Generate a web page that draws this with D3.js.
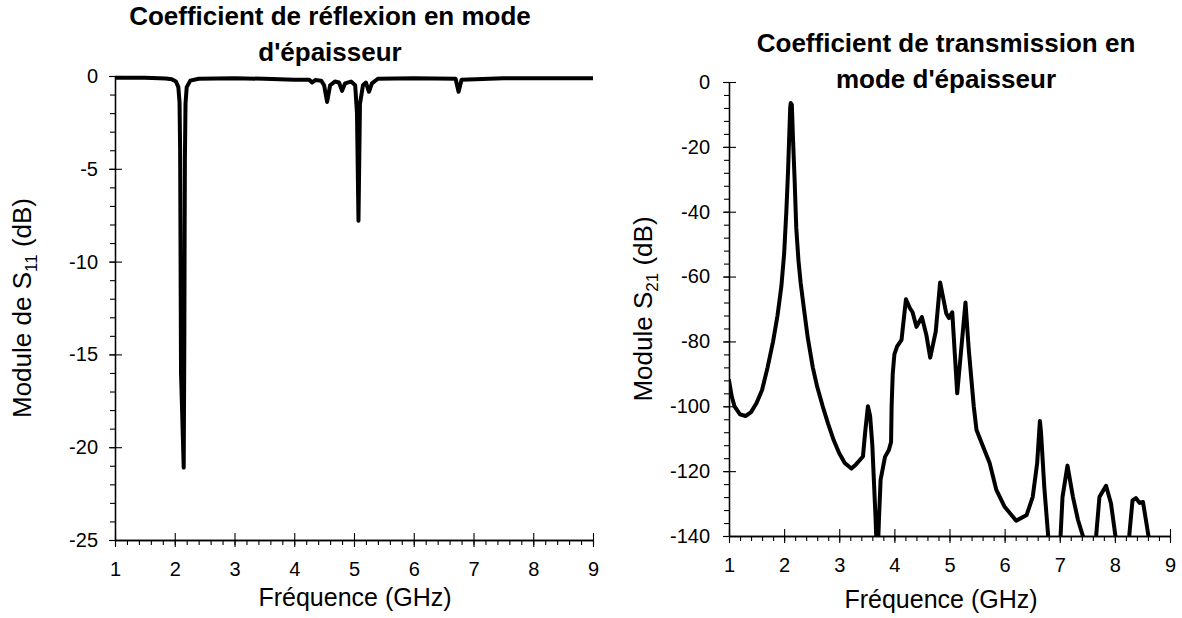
<!DOCTYPE html>
<meta charset="utf-8">
<script src="https://d3js.org/d3.v7.min.js"></script>
<style>
  body { margin: 0; background: #fff; }
  text { font-family: "Liberation Sans", Arial, sans-serif; fill: #000; }
</style>
<body>
<div id="my_dataviz"></div>
<script>

  // reflection S11 (GHz, dB)
  var s11Freq = [1.0, 1.5, 1.85, 1.95, 2.02, 2.06, 2.08, 2.09, 2.095, 2.1, 2.105, 2.15, 2.16, 2.165, 2.17, 2.18, 2.2, 2.26, 2.4,
                 3.0, 3.5, 4.0, 4.25, 4.3, 4.35, 4.45, 4.5, 4.55, 4.6, 4.68, 4.75, 4.8, 4.85, 4.95, 5.02, 5.05, 5.075, 5.1,
                 5.15, 5.2, 5.25, 5.3, 5.4, 6.0, 6.7, 6.75, 6.8, 7.5, 9.0]
  var s11Val = [-0.1, -0.1, -0.13, -0.18, -0.3, -0.6, -1.4, -4, -8, -12, -16, -21.1, -14.5, -9, -4.5, -1.5, -0.6, -0.25, -0.15,
                -0.12, -0.15, -0.2, -0.2, -0.35, -0.22, -0.25, -0.5, -1.4, -0.5, -0.3, -0.35, -0.8, -0.4, -0.3, -0.5, -2, -7.8, -1.5,
                -0.5, -0.35, -0.85, -0.4, -0.15, -0.12, -0.15, -0.85, -0.2, -0.12, -0.12]

  // transmission S21 (GHz, dB)
  var s21Freq = [1.0, 1.05, 1.1, 1.2, 1.3, 1.4, 1.5, 1.6, 1.7, 1.8, 1.88, 1.95, 2.0, 2.04, 2.07, 2.09, 2.11, 2.12, 2.14, 2.16,
                 2.19, 2.22, 2.26, 2.3, 2.36, 2.43, 2.52, 2.6, 2.7, 2.8, 2.9, 3.0, 3.1, 3.22, 3.3, 3.43, 3.47, 3.52, 3.56, 3.6,
                 3.66, 3.69, 3.72, 3.75, 3.83, 3.9, 3.94, 3.95, 3.97, 4.0, 4.05, 4.13, 4.21, 4.28, 4.33, 4.4, 4.5, 4.58, 4.65,
                 4.75, 4.83, 4.94, 4.99, 5.05, 5.14, 5.29, 5.35, 5.44, 5.49, 5.61, 5.73, 5.85, 6.0, 6.21, 6.4, 6.51, 6.59, 6.64,
                 6.66, 6.72, 6.79, 6.85, 7.0, 7.05, 7.14, 7.24, 7.33, 7.42, 7.55, 7.66, 7.72, 7.84, 7.93, 8.01, 8.15, 8.26, 8.32,
                 8.38, 8.45, 8.51, 8.61, 8.7]
  var s21Val = [-92, -97, -100, -102.5, -103, -101.8, -99, -95, -88, -80, -72, -63, -53, -40, -28, -18, -8, -6.5, -7, -17,
                -30, -45, -55, -62, -70, -79, -88, -94, -100, -105.5, -110.5, -114.5, -117.5, -119.2, -118, -115.5, -108, -100, -103, -112,
                -135, -150, -135, -122.7, -115.6, -113.5, -111, -100, -90, -84, -81.5, -79.5, -67, -69.7, -71, -75.5, -72.5, -78, -85,
                -77, -61.8, -71.3, -72.8, -71, -96, -68, -82.6, -100, -107.3, -112.5, -117.6, -125.8, -131, -135.3, -133.5, -127.9, -117.6, -104.5,
                -108, -125, -140, -155, -145, -128, -118.3, -128, -135, -140, -150, -140, -128, -124.5, -130, -140, -150, -140, -129,
                -128.3, -129.8, -129.5, -140, -150]

  var xTicks = [1, 2, 3, 4, 5, 6, 7, 8, 9]
  var s11Ticks = [0, -5, -10, -15, -20, -25]
  var s21Ticks = [0, -20, -40, -60, -80, -100, -120, -140]

  var svg = d3.select("#my_dataviz")
    .append("svg")
      .attr("width", 1182)
      .attr("height", 618)

  function minorRange(lo, hi, step) {
    var out = []
    for (var i = 0; lo + i * step <= hi + 1e-9; i++) out.push(+(lo + i * step).toFixed(3))
    return out
  }

  function plain(d) { return String(d) }  // keep ASCII hyphen for negatives

  function drawChart(opt) {
    var x = d3.scaleLinear().domain([1, 9]).range([opt.left, opt.right])
    var y = d3.scaleLinear().domain([opt.yMin, 0]).range([opt.bottom, opt.top])
    var g = svg.append("g")

    // minor ticks (outside only)
    g.append("g")
      .attr("transform", "translate(0," + opt.bottom + ")")
      .call(d3.axisBottom(x).tickValues(minorRange(1, 9, 0.2)).tickFormat("").tickSize(5).tickSizeOuter(0))
    g.append("g")
      .attr("transform", "translate(" + opt.left + ",0)")
      .call(d3.axisLeft(y).tickValues(minorRange(opt.yMin, 0, opt.yMinor)).tickFormat("").tickSize(5).tickSizeOuter(0))

    // major ticks, crossing the axis
    var xa = g.append("g")
      .attr("transform", "translate(0," + opt.bottom + ")")
      .call(d3.axisBottom(x).tickValues(xTicks).tickFormat(plain).tickSize(7).tickSizeOuter(0).tickPadding(15))
    xa.selectAll(".tick line").attr("y1", -7)
    xa.selectAll(".tick text").style("font-size", "20px")

    var ya = g.append("g")
      .attr("transform", "translate(" + opt.left + ",0)")
      .call(d3.axisLeft(y).tickValues(opt.yTicks).tickFormat(plain).tickSize(6).tickSizeOuter(0).tickPadding(opt.yPad))
    ya.selectAll(".tick line").attr("x1", 7)
    ya.selectAll(".tick text").style("font-size", "20px")

    g.selectAll(".domain").attr("stroke", "#000").attr("stroke-width", 1.3)
    g.selectAll(".tick line").attr("stroke", "#000").attr("stroke-width", 1.1)
    g.selectAll(".tick text").attr("fill", "#000").style("font-family", "'Liberation Sans', Arial, sans-serif")

    // curve
    var clipId = "clip" + opt.id
    svg.append("clipPath").attr("id", clipId)
      .append("rect")
        .attr("x", opt.left).attr("y", opt.top - 10)
        .attr("width", opt.right - opt.left).attr("height", opt.bottom - opt.top + 10)

    var pts = opt.freq.map(function(f, i) { return [f, opt.val[i]] })
    g.append("path")
      .datum(pts)
      .attr("clip-path", "url(#" + clipId + ")")
      .attr("fill", "none")
      .attr("stroke", "#000")
      .attr("stroke-width", 4)
      .attr("stroke-linejoin", "round")
      .attr("stroke-linecap", "round")
      .attr("d", d3.line()
        .x(function(d) { return x(d[0]) })
        .y(function(d) { return y(d[1]) }))

    // titles
    opt.title.forEach(function(t, i) {
      g.append("text")
        .attr("x", opt.titleX)
        .attr("y", opt.titleY + i * 36)
        .attr("text-anchor", "middle")
        .style("font-size", "26px")
        .style("font-weight", "bold")
        .text(t)
    })

    g.append("text")
      .attr("x", opt.xLabelX)
      .attr("y", opt.xLabelY)
      .attr("text-anchor", "middle")
      .style("font-size", "25px")
      .text("Fréquence (GHz)")

    var yl = g.append("text")
      .attr("transform", "translate(" + opt.yLabelX + "," + ((opt.top + opt.bottom) / 2) + ") rotate(-90)")
      .attr("text-anchor", "middle")
      .style("font-size", "26px")
    yl.append("tspan").text(opt.yLabel)
    yl.append("tspan").text("S")
    yl.append("tspan").attr("dy", 6).style("font-size", "17px").text(opt.sub)
    yl.append("tspan").attr("dy", -6).text(" (dB)")
  }

  drawChart({
    id: 1, left: 115, right: 593, top: 76, bottom: 540, yMin: -25, yMinor: 1, yTicks: s11Ticks, yPad: 11,
    freq: s11Freq, val: s11Val,
    title: ["Coefficient de réflexion en mode", "d'épaisseur"], titleX: 330, titleY: 25,
    xLabelX: 355, xLabelY: 606, yLabelX: 31, yLabel: "Module de ", sub: "11"
  })

  drawChart({
    id: 2, left: 729, right: 1170, top: 82, bottom: 536, yMin: -140, yMinor: 4, yTicks: s21Ticks, yPad: 13,
    freq: s21Freq, val: s21Val,
    title: ["Coefficient de transmission en", "mode d'épaisseur"], titleX: 946, titleY: 52,
    xLabelX: 941, xLabelY: 608, yLabelX: 652, yLabel: "Module ", sub: "21"
  })

</script>
</body>
